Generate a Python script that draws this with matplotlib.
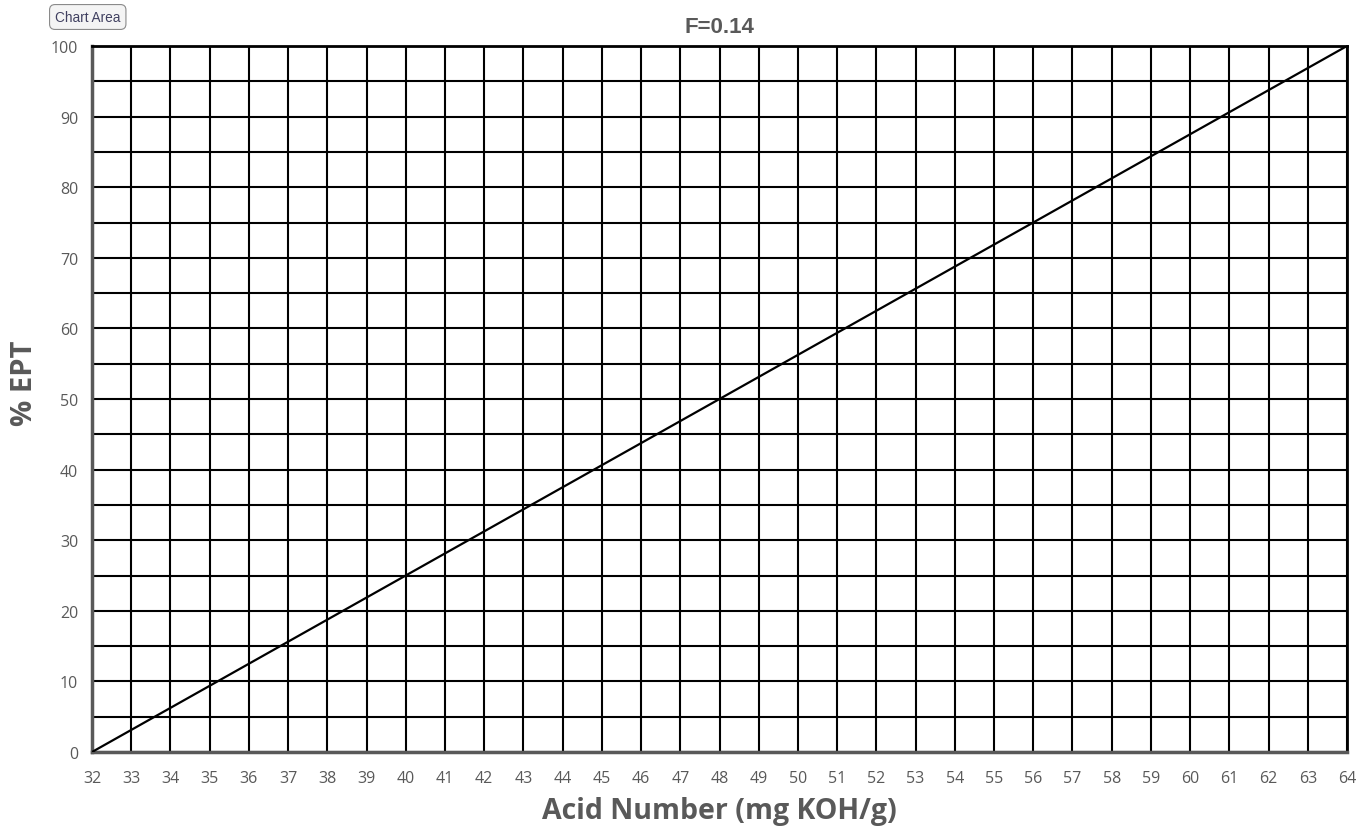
import matplotlib.pyplot as plt
import numpy as np

# line data
acid_number = [32, 64]
pct_ept = [0, 100]

x_ticks = np.arange(32, 65, 1)
y_ticks = np.arange(0, 101, 10)
y_minor = np.arange(5, 100, 10)

fig = plt.figure(figsize=(13.59, 8.28), dpi=100)
ax = fig.add_axes([92 / 1359, 75 / 828, 1255 / 1359, 706 / 828])

ax.plot(acid_number, pct_ept, color='black', lw=1.6, zorder=3)

ax.set_xlim(32, 64)
ax.set_ylim(0, 100)
ax.set_xticks(x_ticks)
ax.set_yticks(y_ticks)
ax.set_yticks(y_minor, minor=True)
ax.grid(True, which='both', color='black', lw=1.5)
ax.tick_params(which='both', length=0, colors='#595959', labelsize=11.5)
ax.tick_params(axis='x', pad=13)
ax.tick_params(axis='y', pad=10)
for lab in ax.get_xticklabels() + ax.get_yticklabels():
    lab.set_family('Open Sans')

for s in ['top', 'right']:
    ax.spines[s].set_color('black')
    ax.spines[s].set_linewidth(2)
for s in ['left', 'bottom']:
    ax.spines[s].set_color('#595959')
    ax.spines[s].set_linewidth(2.5)

ax.set_title('F=0.14', fontsize=16, fontweight='bold', color='#595959',
             family='Liberation Sans', pad=10)

# axis titles placed on the figure so they don't get clipped
fig.text(0.5 * (92 + 1347) / 1359, 1 - 812 / 828, 'Acid Number (mg KOH/g)',
         fontsize=20.5, fontweight='bold', color='#595959', family='Open Sans',
         ha='center', va='center')
fig.text(25 / 1359, 1 - 383 / 828, '% EPT', rotation=90,
         fontsize=21, fontweight='bold', color='#595959', family='Open Sans',
         ha='center', va='center')

# "Chart Area" tooltip button
fig.text(55 / 1359, 1 - 18 / 828, 'Chart Area', fontsize=9.8, color='#404060',
         family='Liberation Sans', va='center', ha='left',
         bbox=dict(boxstyle='round,pad=0.4', fc='#f4f4f4', ec='#8a8a8a', lw=0.8))

fig.savefig('out.png', dpi=100)
